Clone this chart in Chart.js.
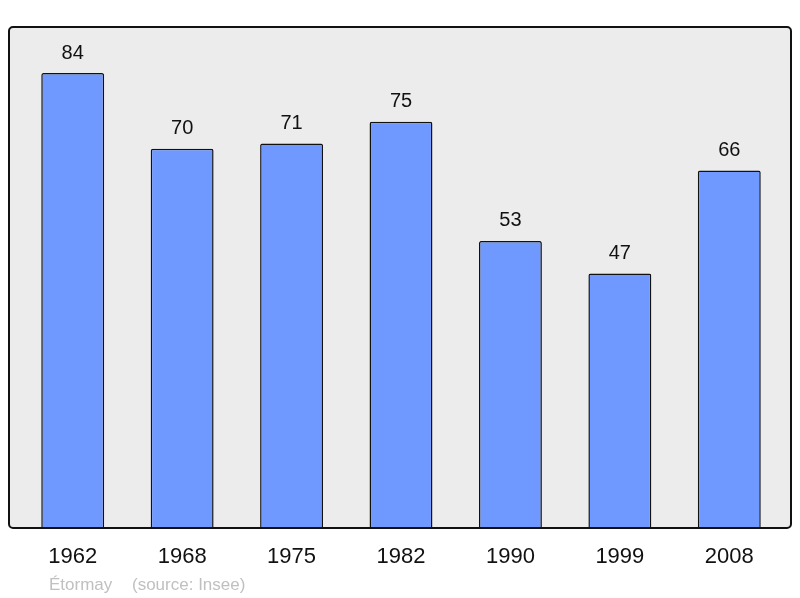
<!DOCTYPE html>
<html>
<head>
<meta charset="utf-8">
<script src="https://cdn.jsdelivr.net/npm/chart.js@4"></script>
<style>
  html, body { margin: 0; padding: 0; background: #fff; }
  #wrap { width: 800px; height: 598px; }
</style>
</head>
<body>
<div id="wrap"><canvas id="popChart" width="800" height="598"></canvas></div>
<script>
// population by census year
const years = ['1962', '1968', '1975', '1982', '1990', '1999', '2008'];
const population = [84, 70, 71, 75, 53, 47, 66];
const footerName = 'Étormay';
const footerSource = '(source: Insee)';

const fontFamily = '"Liberation Sans", Arial, sans-serif';

// grey panel with black rounded frame, a bit wider than the bar area
const framePlugin = {
  id: 'frame',
  beforeDraw(chart) {
    const { ctx, chartArea } = chart;
    const x0 = chartArea.left - 9;
    const x1 = chartArea.right + 7;
    ctx.save();
    ctx.beginPath();
    ctx.roundRect(x0, chartArea.top, x1 - x0, chartArea.bottom - chartArea.top, 4);
    ctx.fillStyle = '#ececec';
    ctx.fill();
    ctx.restore();
  },
  afterDatasetsDraw(chart) {
    const { ctx, chartArea } = chart;
    const x0 = chartArea.left - 9;
    const x1 = chartArea.right + 7;
    ctx.save();
    ctx.beginPath();
    ctx.roundRect(x0, chartArea.top, x1 - x0, chartArea.bottom - chartArea.top, 4);
    ctx.lineWidth = 2;
    ctx.strokeStyle = '#111';
    ctx.stroke();

    // value labels above the bars
    const meta = chart.getDatasetMeta(0);
    ctx.fillStyle = '#111';
    ctx.font = '20px ' + fontFamily;
    ctx.textAlign = 'center';
    ctx.textBaseline = 'alphabetic';
    meta.data.forEach((bar, i) => {
      ctx.fillText(String(population[i]), bar.x, bar.y - 14.5);
    });

    // footer
    ctx.fillStyle = '#c0c0c0';
    ctx.font = '17px ' + fontFamily;
    ctx.textAlign = 'left';
    ctx.fillText(footerName, 49, 590);
    ctx.fillText(footerSource, 132, 590);
    ctx.restore();
  }
};

new Chart(document.getElementById('popChart'), {
  type: 'bar',
  data: {
    labels: years,
    datasets: [{
      data: population,
      backgroundColor: '#7099ff',
      borderColor: '#111',
      borderWidth: 1.5,
      borderRadius: 2,
      borderSkipped: 'bottom',
      barPercentage: 0.575,
      categoryPercentage: 1
    }]
  },
  options: {
    responsive: false,
    animation: false,
    layout: {
      padding: { left: 18, right: 16, top: 27, bottom: 11.6 }
    },
    plugins: {
      legend: { display: false },
      title: { display: false },
      tooltip: { enabled: false }
    },
    scales: {
      x: {
        grid: { display: false, drawTicks: false },
        border: { display: false },
        ticks: {
          color: '#111',
          padding: 16,
          font: { family: fontFamily, size: 22 }
        }
      },
      y: {
        display: false,
        min: 0,
        max: 92.5
      }
    }
  },
  plugins: [framePlugin]
});
</script>
</body>
</html>
